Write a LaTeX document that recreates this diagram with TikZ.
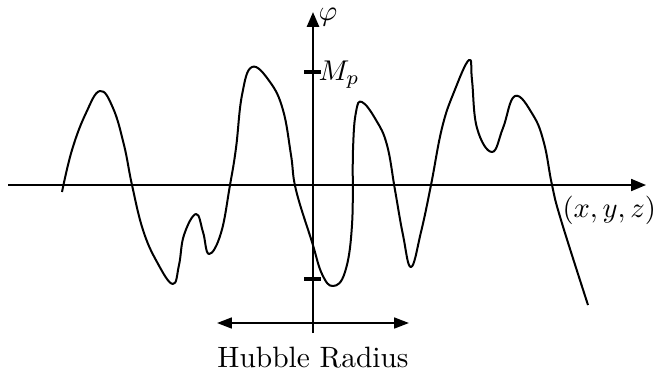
\documentclass[tikz,border=0pt]{standalone}
\usetikzlibrary{arrows.meta}
\begin{document}
\begin{tikzpicture}[x=0.35pt,y=-0.35pt,
  haxis/.style={line width=0.6pt},
  vaxis/.style={line width=0.9pt},
  tickmark/.style={line width=1.1pt},
  wave/.style={line width=0.7pt, line join=round},
  bigtip/.style={-{Triangle[length=5.2pt,width=4.2pt]}},
  dbltip/.style={{Triangle[length=5.2pt,width=3.8pt]}-{Triangle[length=5.2pt,width=3.8pt]}},
  lbl/.style={inner sep=0pt, font=\fontsize{10.3pt}{12pt}\selectfont}]
\useasboundingbox (0,0) rectangle (662,372);
% axes
\coordinate (xl) at (8,185);
\coordinate (xr) at (646,185);
\coordinate (yb) at (313,333);
\coordinate (yt) at (313,12);
\draw[haxis,bigtip] (xl) -- (xr);
\draw[vaxis,bigtip] (yb) -- (yt);
% ticks
\coordinate (t1l) at (304,72);  \coordinate (t1r) at (321,72);
\coordinate (t2l) at (304,279); \coordinate (t2r) at (321,279);
\draw[tickmark] (t1l) -- (t1r);
\draw[tickmark] (t2l) -- (t2r);
% labels
\node[lbl,anchor=base west] (phi) at (318,20) {$\varphi$};
\node[lbl,anchor=base west] (mp) at (318,80) {$M_p$};
\node[lbl,anchor=base west] (xyz) at (562,217) {$(x,y,z)$};
% Hubble radius
\coordinate (hl) at (217,323);
\coordinate (hr) at (409,323);
\draw[line width=0.7pt,dbltip] (hl) -- (hr);
\node[lbl,anchor=base] (hub) at (313,367) {Hubble Radius};
% wave
\draw[wave] plot[smooth,tension=0.7] coordinates {
 (62,192) (72,150) (86,113) (100,91) (113,108) (124,145) (132,185)
 (143,230) (157,262) (172.7,284) (179,265) (184,235) (196,214) (203,232)
 (209,254) (221,233) (230,185) (236,148) (242,95) (252,67) (270,82)
 (283,110) (291,155) (296,190) (312,242) (322,274) (333,286) (345,272)
 (352,225) (353,150) (356,112) (362,102) (376,120) (387,145) (395,190)
 (403,235) (411,267) (421,232) (431,185) (442,128) (454,92) (469,60)
 (472,80) (477,128) (492,152) (503,128) (515,96) (533,115) (544,143)
 (552,185) (561,220) (588,305)};
\end{tikzpicture}
\end{document}
